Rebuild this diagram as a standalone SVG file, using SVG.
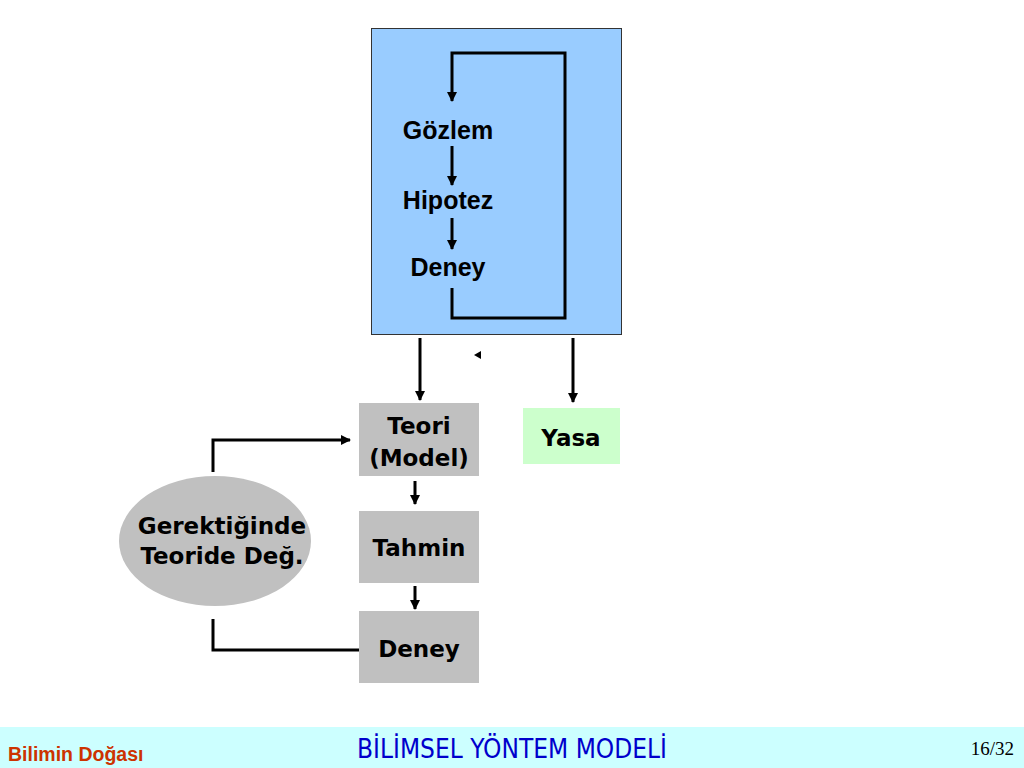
<svg xmlns="http://www.w3.org/2000/svg" width="1024" height="768" viewBox="0 0 1024 768">
<defs>
<marker id="ah" markerWidth="10" markerHeight="10" refX="9" refY="5" orient="auto" markerUnits="userSpaceOnUse">
<path d="M0,0 L10,5 L0,10 z" fill="#000"/>
</marker>
<style>
.ln{fill:none;stroke:#000;stroke-width:3}
.t1{font-family:"Liberation Sans",Arial,sans-serif;font-weight:bold;font-size:25px;fill:#000;text-anchor:middle}
.t2{font-family:"DejaVu Sans",Verdana,sans-serif;font-weight:bold;font-size:23px;fill:#000;text-anchor:middle}
.box{fill:#C0C0C0}
</style>
</defs>
<rect width="1024" height="768" fill="#fff"/>
<g id="method-box">
<rect x="371.5" y="28.5" width="250" height="306" fill="#99CCFF" stroke="#333" stroke-width="1"/>
<text class="t1" x="448" y="139">Gözlem</text>
<text class="t1" x="448" y="209">Hipotez</text>
<text class="t1" x="448" y="276">Deney</text>
</g>
<g id="teori"><rect class="box" x="359" y="403" width="120" height="73"/>
<text class="t2" x="419" y="434">Teori</text><text class="t2" x="419" y="466">(Model)</text></g>
<g id="yasa"><rect x="523" y="408" width="97" height="56" fill="#CCFFCC"/>
<text class="t2" x="571" y="446">Yasa</text></g>
<g id="tahmin"><rect class="box" x="359" y="511" width="120" height="72"/>
<text class="t2" x="419" y="556">Tahmin</text></g>
<g id="deney2"><rect class="box" x="359" y="611" width="120" height="72"/>
<text class="t2" x="419" y="657">Deney</text></g>
<g id="degisim"><ellipse cx="215" cy="541" rx="96" ry="65" fill="#C0C0C0"/>
<text class="t2" x="222" y="534">Gerektiğinde</text><text class="t2" x="222" y="564">Teoride Değ.</text></g>
<g id="connectors">
<path class="ln" d="M452,288 V318 H565 V53 H452 V101" marker-end="url(#ah)"/>
<path class="ln" d="M452,146 V185" marker-end="url(#ah)"/>
<path class="ln" d="M452,218 V249" marker-end="url(#ah)"/>
<path class="ln" d="M420,338 V400" marker-end="url(#ah)"/>
<path class="ln" d="M573,338 V402" marker-end="url(#ah)"/>
<path d="M474,355 L481,351 L481,359 z" fill="#000"/>
<path class="ln" d="M415,481 V504" marker-end="url(#ah)"/>
<path class="ln" d="M415,586 V609" marker-end="url(#ah)"/>
<path class="ln" d="M213,472 V440 H350" marker-end="url(#ah)"/>
<path class="ln" d="M213,619 V650 H359"/>
</g>
<g id="footer">
<rect x="0" y="727" width="1024" height="41" fill="#CCFFFF"/>
<text x="8" y="761" font-family="'Liberation Sans',Arial,sans-serif" font-weight="bold" font-size="19.5" fill="#CC3300">Bilimin Doğası</text>
<text x="512" y="758" text-anchor="middle" font-family="'DejaVu Sans Condensed','DejaVu Sans',sans-serif" font-size="26" fill="#0000CC">BİLİMSEL YÖNTEM MODELİ</text>
<text x="1014" y="755" text-anchor="end" font-family="'Liberation Serif','Times New Roman',serif" font-size="19" fill="#000">16/32</text>
</g>
</svg>
